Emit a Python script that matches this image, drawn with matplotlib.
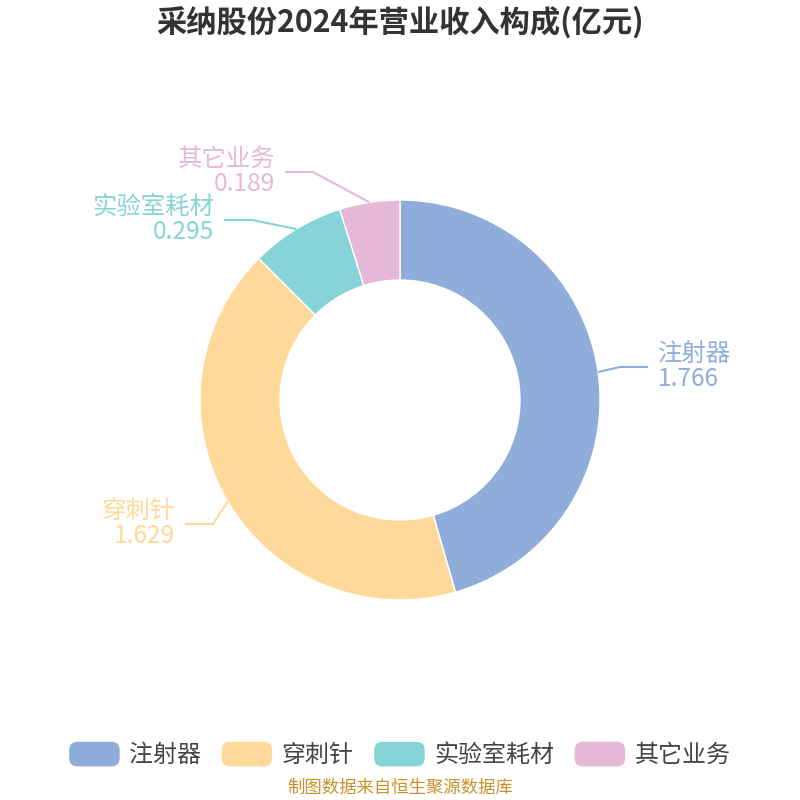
import matplotlib.pyplot as plt
import numpy as np
from matplotlib.legend_handler import HandlerPatch
from matplotlib.patches import FancyBboxPatch, Patch

plt.rcParams["font.family"] = ["Noto Sans CJK SC", "DejaVu Sans"]

TITLE = "采纳股份2024年营业收入构成(亿元)"
SOURCE = "制图数据来自恒生聚源数据库"
categories = ["注射器", "穿刺针", "实验室耗材", "其它业务"]
values = [1.766, 1.629, 0.295, 0.189]
colors = ["#8EADDA", "#FFD99A", "#86D4D7", "#E6B8D7"]

# label layout in pixel coords (y from top): elbow x, line y, side
LABEL_LAYOUT = {
    "注射器": (620, 367, 1),
    "穿刺针": (213, 524, -1),
    "实验室耗材": (252, 220, -1),
    "其它业务": (313, 172, -1),
}

W = H = 800
CX, CY = 400, 400
R_OUT, R_IN = 200, 120


def py(y):
    return H - y


class RoundHandler(HandlerPatch):
    def create_artists(self, legend, orig_handle, xdescent, ydescent,
                       width, height, fontsize, trans):
        p = FancyBboxPatch((-xdescent + 3, -ydescent + 3), width - 6, height - 6,
                           boxstyle="round,pad=3,rounding_size=6",
                           facecolor=orig_handle.get_facecolor(),
                           edgecolor="none", transform=trans)
        return [p]


fig = plt.figure(figsize=(8, 8), dpi=100)
ax = fig.add_axes([0, 0, 1, 1])
wedges, _ = ax.pie(values, colors=colors, startangle=90, counterclock=False,
                   radius=R_OUT, center=(CX, py(CY)),
                   wedgeprops=dict(width=R_OUT - R_IN, edgecolor="white", linewidth=1))
ax.set_xlim(0, W)
ax.set_ylim(0, H)
ax.set_aspect("equal")
ax.axis("off")

for w, name, val, col in zip(wedges, categories, values, colors):
    mid = np.deg2rad((w.theta1 + w.theta2) / 2)
    sx = CX + R_OUT * np.cos(mid)
    sy = py(CY) + R_OUT * np.sin(mid)
    ex, ly, side = LABEL_LAYOUT[name]
    endx = ex + side * 28
    ax.plot([sx, ex, endx], [sy, py(ly), py(ly)], color=col, lw=1.5,
            solid_capstyle="butt")
    tx = endx + side * 10
    ha = "left" if side > 0 else "right"
    ax.text(tx, py(ly - 13), name, color=col, fontsize=17.6, ha=ha, va="center")
    ax.text(tx, py(ly + 12), f"{val:.3f}", color=col, fontsize=17.6, ha=ha, va="center")

fig.text(0.5, 1 - 22 / H, TITLE, ha="center", va="center", fontsize=21.8,
         fontweight="bold", color="#333333")

handles = [Patch(facecolor=c, label=n) for c, n in zip(colors, categories)]
ax.legend(handles=handles, loc="center", bbox_to_anchor=(0.5, 1 - 755 / H),
          bbox_transform=fig.transFigure, ncol=4, frameon=False, fontsize=17.3,
          handlelength=2.1, handleheight=1.2, handletextpad=0.4,
          columnspacing=0.85, labelcolor="#444444",
          handler_map={Patch: RoundHandler()})

fig.text(0.5, 1 - 788 / H, SOURCE, ha="center", va="center", fontsize=12.5,
         color="#C8922A")

fig.savefig("out.png", dpi=100, facecolor="white")
